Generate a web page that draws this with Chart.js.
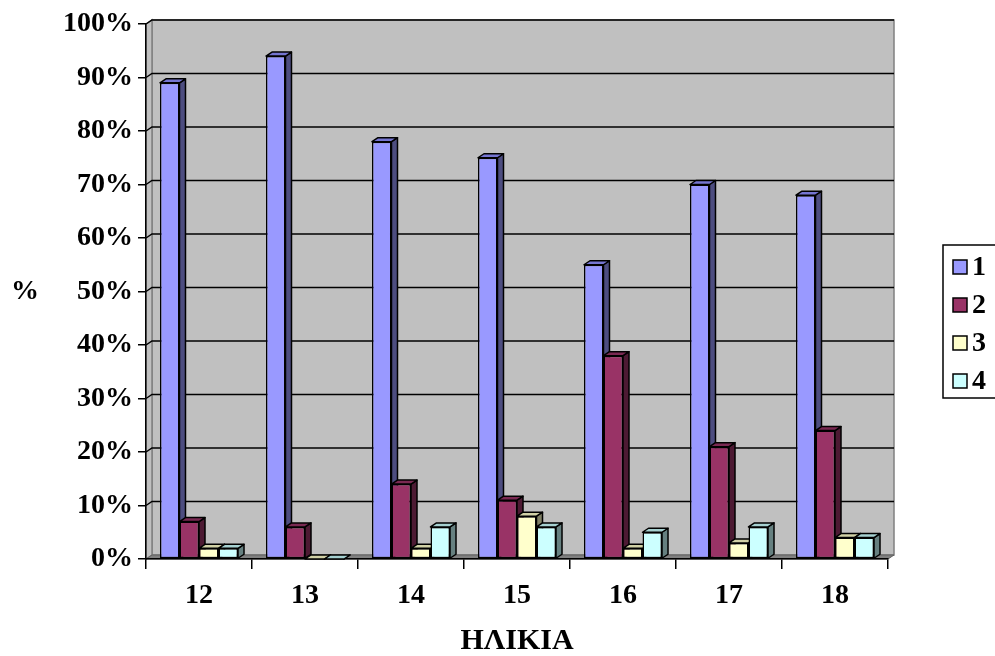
<!DOCTYPE html>
<html>
<head>
<meta charset="utf-8">
<title>ΗΛΙΚΙΑ</title>
<script src="https://cdn.jsdelivr.net/npm/chart.js@4.4.1/dist/chart.umd.min.js"></script>
<style>
   html, body { margin: 0; padding: 0; background: #fff; overflow: hidden; }
   #wrap { position: relative; width: 995px; height: 656px; }
</style>
</head>
<body>
<div id="wrap"><canvas id="chartEdades" width="995" height="656"></canvas></div>
<script>
const ages = ['12', '13', '14', '15', '16', '17', '18'];
const serie1 = [89, 94, 78, 75, 55, 70, 68];
const serie2 = [7, 6, 14, 11, 38, 21, 24];
const serie3 = [2, 0, 2, 8, 2, 3, 4];
const serie4 = [2, 0, 6, 6, 5, 6, 4];
const serieNames = ['1', '2', '3', '4'];

const frontColors = ['#9999FF', '#993366', '#FFFFCC', '#CCFFFF'];
const topColors = ['#7575D1', '#7A2952', '#D1D1A6', '#A6D1D1'];
const sideColors = ['#4D4D80', '#4D1A33', '#808066', '#668080'];

const FONT = "'Liberation Serif', 'Times New Roman', serif";
const DX = 6;   // depth of the 3d box, horizontal
const DY = 4;   // depth of the 3d box, vertical

const poly = (ctx, pts, fill, stroke, lw) => {
   ctx.beginPath();
   ctx.moveTo(pts[0][0], pts[0][1]);
   for (let i = 1; i < pts.length; i++) ctx.lineTo(pts[i][0], pts[i][1]);
   ctx.closePath();
   if (fill) { ctx.fillStyle = fill; ctx.fill(); }
   if (stroke) { ctx.strokeStyle = stroke; ctx.lineWidth = lw || 1; ctx.stroke(); }
};

const box3d = {
   id: 'box3d',
   beforeDraw: function (chart) {
      const { ctx, chartArea: a, scales: { y } } = chart;
      ctx.save();
      // back wall
      ctx.fillStyle = '#C0C0C0';
      ctx.fillRect(a.left + DX, a.top - DY, a.width, a.height);
      ctx.strokeStyle = '#808080';
      ctx.lineWidth = 1.5;
      ctx.strokeRect(a.left + DX, a.top - DY, a.width, a.height);
      // side wall and floor
      poly(ctx, [[a.left, a.top], [a.left + DX, a.top - DY], [a.left + DX, a.bottom - DY], [a.left, a.bottom]], '#C0C0C0', '#808080', 1.5);
      poly(ctx, [[a.left, a.bottom], [a.left + DX, a.bottom - DY], [a.right + DX, a.bottom - DY], [a.right, a.bottom]], '#808080', '#606060', 1);
      // gridlines on the walls
      ctx.strokeStyle = '#000';
      ctx.lineWidth = 1.5;
      y.ticks.forEach(t => {
         if (t.value === 0) return;
         const py = y.getPixelForValue(t.value);
         ctx.beginPath();
         ctx.moveTo(a.left, py);
         ctx.lineTo(a.left + DX, py - DY);
         ctx.lineTo(a.right + DX, py - DY);
         ctx.stroke();
      });
      ctx.restore();
   },
   beforeDatasetsDraw: function (chart) {
      const ctx = chart.ctx;
      ctx.save();
      ctx.lineJoin = 'round';
      chart.data.datasets.forEach((ds, i) => {
         chart.getDatasetMeta(i).data.forEach(bar => {
            const { x, y, base, width } = bar.getProps(['x', 'y', 'base', 'width'], true);
            const l = x - width / 2;
            const r = x + width / 2;
            poly(ctx, [[r, y], [r + DX, y - DY], [r + DX, base - DY], [r, base]], sideColors[i], '#000', 1.5);
            poly(ctx, [[l, y], [l + DX, y - DY], [r + DX, y - DY], [r, y]], topColors[i], '#000', 1.5);
         });
      });
      ctx.restore();
   },
   afterDraw: function (chart) {
      const { ctx, scales: { y } } = chart;
      ctx.save();
      ctx.fillStyle = '#000';
      ctx.font = `bold 28px ${FONT}`;
      ctx.textBaseline = 'middle';
      ctx.textAlign = 'left';
      ctx.fillText('%', 11, y.getPixelForValue(50));

      // legend
      const lx = 943, ly = 245;
      ctx.fillStyle = '#fff';
      ctx.fillRect(lx, ly, 60, 153);
      ctx.strokeStyle = '#000';
      ctx.lineWidth = 1.5;
      ctx.strokeRect(lx, ly, 60, 153);
      chart.data.datasets.forEach((ds, i) => {
         const cy = ly + 22 + i * 38;
         ctx.fillStyle = ds.backgroundColor;
         ctx.fillRect(lx + 10, cy - 7, 14, 14);
         ctx.strokeRect(lx + 10, cy - 7, 14, 14);
         ctx.fillStyle = '#000';
         ctx.fillText(ds.label, lx + 29, cy + 1);
      });
      ctx.restore();
   }
};

const ctx = document.getElementById('chartEdades').getContext('2d');
const series = [serie1, serie2, serie3, serie4];

const chartEdades = new Chart(ctx, {
   type: 'bar',
   data: {
      labels: ages,
      datasets: series.map((valores, i) => ({
         label: serieNames[i],
         data: valores,
         backgroundColor: frontColors[i],
         borderColor: '#000',
         borderWidth: 1.5,
         borderSkipped: false,
         categoryPercentage: 0.736,
         barPercentage: 1,
      }))
   },
   options: {
      responsive: false,
      animation: false,
      devicePixelRatio: 1,
      layout: {
         padding: { top: 24, right: 107, bottom: 0, left: 0 }
      },
      scales: {
         x: {
            afterFit: s => { s.height = 97; },
            grid: {
               offset: true,
               drawOnChartArea: false,
               drawTicks: true,
               tickLength: 10,
               color: '#000',
               lineWidth: 1.5,
            },
            border: { color: '#000', width: 1.5 },
            ticks: {
               padding: 10,
               color: '#000',
               font: { family: FONT, size: 28, weight: 'bold' },
            },
            title: {
               display: true,
               text: 'ΗΛΙΚΙΑ',
               color: '#000',
               padding: { top: 0, bottom: 0 },
               font: { family: FONT, size: 30, weight: 'bold', lineHeight: 1 },
            }
         },
         y: {
            min: 0,
            max: 100,
            afterFit: s => { s.width = 146; },
            grid: {
               drawOnChartArea: false,
               drawTicks: true,
               tickLength: 8,
               color: '#000',
               lineWidth: 1.5,
            },
            border: { color: '#000', width: 1.5 },
            ticks: {
               stepSize: 10,
               padding: 5,
               color: '#000',
               font: { family: FONT, size: 28, weight: 'bold' },
               callback: value => `${value}%`,
            }
         }
      },
      plugins: {
         legend: { display: false },
         tooltip: { enabled: false },
      }
   },
   plugins: [box3d]
});
</script>
</body>
</html>
